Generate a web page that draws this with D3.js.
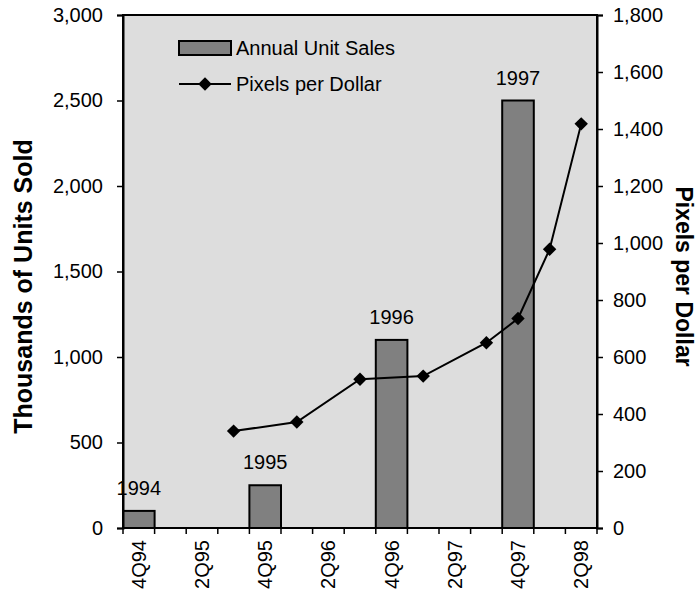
<!DOCTYPE html>
<html>
<head>
<meta charset="utf-8">
<script src="https://cdn.jsdelivr.net/npm/d3@7/dist/d3.min.js"></script>
<style>
  html, body { margin: 0; padding: 0; background: #ffffff; }
  svg { display: block; font-family: "Liberation Sans", Arial, sans-serif; }
</style>
</head>
<body>
<svg id="chart" width="700" height="601"></svg>
<script>
// Quarters along the category axis
const quarters = ["4Q94","1Q95","2Q95","3Q95","4Q95","1Q96","2Q96","3Q96",
                  "4Q96","1Q97","2Q97","3Q97","4Q97","1Q98","2Q98"];
// Quarter labels that are printed under the axis
const tickQuarters = ["4Q94","2Q95","4Q95","2Q96","4Q96","2Q97","4Q97","2Q98"];

// Annual unit sales (thousands), drawn in the Q4 slot of each year
const salesQuarters = ["4Q94","4Q95","4Q96","4Q97"];
const salesYears = ["1994","1995","1996","1997"];
const salesValues = [100, 250, 1100, 2500];

// Pixels per dollar
const ppdQuarters = ["3Q95","1Q96","3Q96","1Q97","3Q97","4Q97","1Q98","2Q98"];
const ppdValues = [340, 372, 522, 533, 650, 735, 978, 1418];

// Axis ticks
const leftTicks = [0, 500, 1000, 1500, 2000, 2500, 3000];
const rightTicks = [0, 200, 400, 600, 800, 1000, 1200, 1400, 1600, 1800];

const svg = d3.select("#chart");
const plot = { left: 123, right: 597, top: 15, bottom: 528 };
const labelSize = 20;

const x = d3.scaleBand().domain(quarters).range([plot.left, plot.right]).padding(0);
const yL = d3.scaleLinear().domain([0, 3000]).range([plot.bottom, plot.top]);
const yR = d3.scaleLinear().domain([0, 1800]).range([plot.bottom, plot.top]);
const fmt = d3.format(",");

// plot background
svg.append("rect")
  .attr("x", plot.left).attr("y", plot.top)
  .attr("width", plot.right - plot.left).attr("height", plot.bottom - plot.top)
  .attr("fill", "#dddddd");

// bars
const sales = salesValues.map((v, i) => ({ q: salesQuarters[i], year: salesYears[i], v }));
svg.append("g").selectAll("rect").data(sales).join("rect")
  .attr("x", d => x(d.q))
  .attr("y", d => yL(d.v))
  .attr("width", x.bandwidth())
  .attr("height", d => yL(0) - yL(d.v))
  .attr("fill", "#808080")
  .attr("stroke", "#000")
  .attr("stroke-width", 2);

// year labels above bars
svg.append("g").selectAll("text").data(sales).join("text")
  .attr("x", d => x(d.q) + x.bandwidth() / 2)
  .attr("y", d => yL(d.v) - 16)
  .attr("text-anchor", "middle")
  .attr("font-size", labelSize)
  .attr("fill", "#000")
  .text(d => d.year);

// pixels-per-dollar line
const ppd = ppdValues.map((v, i) => ({ q: ppdQuarters[i], v }));
const line = d3.line().x(d => x(d.q) + x.bandwidth() / 2).y(d => yR(d.v));
svg.append("path").datum(ppd)
  .attr("d", line)
  .attr("fill", "none")
  .attr("stroke", "#000")
  .attr("stroke-width", 2);

const diamond = d3.symbol().type(d3.symbolDiamond2).size(115);
svg.append("g").selectAll("path").data(ppd).join("path")
  .attr("transform", d => `translate(${x(d.q) + x.bandwidth() / 2},${yR(d.v)})`)
  .attr("d", diamond)
  .attr("fill", "#000");

// plot frame
svg.append("rect")
  .attr("x", plot.left).attr("y", plot.top)
  .attr("width", plot.right - plot.left).attr("height", plot.bottom - plot.top)
  .attr("fill", "none").attr("stroke", "#000").attr("stroke-width", 2);

// left axis
const gL = svg.append("g").attr("transform", `translate(${plot.left},0)`)
  .call(d3.axisLeft(yL).tickValues(leftTicks).tickFormat(fmt).tickSize(6).tickPadding(14));
// right axis
const gR = svg.append("g").attr("transform", `translate(${plot.right},0)`)
  .call(d3.axisRight(yR).tickValues(rightTicks).tickFormat(fmt).tickSize(6).tickPadding(10));
// bottom axis: ticks on band boundaries, labels on selected bands
const boundaries = quarters.map(q => x(q)).concat([plot.right]);
const gB = svg.append("g");
gB.selectAll("line").data(boundaries).join("line")
  .attr("x1", d => d).attr("x2", d => d)
  .attr("y1", plot.bottom).attr("y2", plot.bottom + 6)
  .attr("stroke", "#000").attr("stroke-width", 1.5);
gB.selectAll("text").data(tickQuarters).join("text")
  .attr("transform", d => `translate(${x(d) + x.bandwidth() / 2 + 7},${plot.bottom + 12}) rotate(-90)`)
  .attr("text-anchor", "end")
  .attr("font-size", labelSize)
  .attr("fill", "#000")
  .text(d => d);

[gL, gR].forEach(g => {
  g.select(".domain").attr("stroke", "#000").attr("stroke-width", 2);
  g.selectAll(".tick line").attr("stroke", "#000").attr("stroke-width", 1.5);
  g.selectAll(".tick text").attr("font-size", labelSize).attr("fill", "#000")
    .attr("font-family", "Liberation Sans, Arial, sans-serif");
});

// axis titles
svg.append("text")
  .attr("transform", `translate(32,${(plot.top + plot.bottom) / 2 + 15}) rotate(-90)`)
  .attr("text-anchor", "middle")
  .attr("font-size", 25).attr("font-weight", "bold")
  .text("Thousands of Units Sold");
svg.append("text")
  .attr("transform", `translate(676,${(plot.top + plot.bottom) / 2 + 5}) rotate(90)`)
  .attr("text-anchor", "middle")
  .attr("font-size", 23).attr("font-weight", "bold")
  .text("Pixels per Dollar");

// legend
const lg = svg.append("g");
lg.append("rect").attr("x", 179).attr("y", 41).attr("width", 52).attr("height", 14)
  .attr("fill", "#808080").attr("stroke", "#000").attr("stroke-width", 2);
lg.append("text").attr("x", 236).attr("y", 55).attr("font-size", labelSize).text("Annual Unit Sales");
lg.append("line").attr("x1", 179).attr("x2", 231).attr("y1", 84).attr("y2", 84)
  .attr("stroke", "#000").attr("stroke-width", 2);
lg.append("path").attr("transform", "translate(205,84)").attr("d", diamond).attr("fill", "#000");
lg.append("text").attr("x", 236).attr("y", 91).attr("font-size", labelSize).text("Pixels per Dollar");
</script>
</body>
</html>
